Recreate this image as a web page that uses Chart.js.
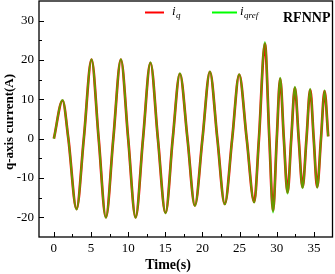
<!DOCTYPE html>
<html><head><meta charset="utf-8">
<script src="https://cdn.jsdelivr.net/npm/chart.js@4/dist/chart.umd.min.js"></script>
<style>html,body{margin:0;padding:0;background:#fff}#wrap{width:335px;height:274px;position:relative}</style>
</head><body><div id="wrap"><canvas id="c" width="335" height="274"></canvas></div>
<script>
const timeS = [0,1.17,1.95,3.05,4.03,5.07,6.03,7.0,8.0,9.02,10.0,11.0,12.0,13.0,14.0,15.03,16.0,16.96,17.98,18.98,20.0,21.0,22.0,23.0,24.0,24.94,25.95,26.96,27.6,28.4,29.0,29.5,30.0,30.46,30.95,31.45,31.95,32.44,32.95,33.47,34.0,34.5,34.97,35.44,35.95,36.43,36.92];
const iq    = [0,9.7,0,-17.9,0,20.1,0,-20.0,0,20.1,0,-20.0,0,19.3,0,-18.9,0,16.5,0,-17.0,0,17.0,0,-16.6,0,16.3,0,-16.1,0,24.2,0,-18.4,0,15.3,0,-13.7,0,13.0,0,-12.4,0,12.5,0,-12.3,0,12.1,0.6];
const iqref = [0,9.8,0,-18.0,0,20.2,0,-20.1,0,20.2,0,-20.1,0,19.4,0,-19.0,0,16.6,0,-17.1,0,17.1,0,-16.7,0,16.4,0,-16.2,0,24.6,0,-18.8,0,15.5,0,-14.0,0,13.2,0,-12.6,0,12.7,0,-12.5,0,12.3,0.6];
const xTicks = [0,5,10,15,20,25,30,35];
const yTicks = [-20,-10,0,10,20,30];
const seriesNames = ['i_q','i_qref'];

const FONT = '"Liberation Serif","Times New Roman",serif';
const toPts = arr => timeS.map((t,i)=>({x:t,y:arr[i]}));

const deco = {
  id:'deco',
  afterDraw(chart){
    const ctx = chart.ctx, a = chart.chartArea;
    const xs = chart.scales.x, ys = chart.scales.y;
    ctx.save();
    ctx.strokeStyle = '#000';
    ctx.lineWidth = 1.3;
    ctx.strokeRect(a.left, a.top, a.right - a.left, a.bottom - a.top);
    ctx.lineWidth = 1;
    ctx.beginPath();
    for (let v = -2.5; v <= 37.5; v += 2.5) {
      const px = Math.round(xs.getPixelForValue(v)) + 0.5;
      if (px <= a.left + 1 || px >= a.right - 1) continue;
      const len = (Math.abs(v % 5) < 1e-6) ? 5 : 3;
      ctx.moveTo(px, a.bottom); ctx.lineTo(px, a.bottom - len);
    }
    for (let v = -25; v <= 35; v += 5) {
      const py = Math.round(ys.getPixelForValue(v)) + 0.5;
      if (py <= a.top + 1 || py >= a.bottom - 1) continue;
      const len = (Math.abs(v % 10) < 1e-6) ? 5 : 3;
      ctx.moveTo(a.left, py); ctx.lineTo(a.left + len, py);
    }
    ctx.stroke();

    // axis titles
    ctx.fillStyle = '#000';
    ctx.font = 'bold 14px ' + FONT;
    ctx.textAlign = 'center'; ctx.textBaseline = 'middle';
    ctx.fillText('Time(s)', 168, 265);
    ctx.save();
    ctx.translate(10, 122); ctx.rotate(-Math.PI/2);
    ctx.font = 'bold 13px ' + FONT;
    ctx.fillText('q-axis current(A)', 0, 0);
    ctx.restore();

    // legend
    ctx.lineWidth = 2;
    ctx.strokeStyle = '#ff0000';
    ctx.beginPath(); ctx.moveTo(145, 12.5); ctx.lineTo(164, 12.5); ctx.stroke();
    ctx.strokeStyle = '#00ff00';
    ctx.beginPath(); ctx.moveTo(212, 12.5); ctx.lineTo(237, 12.5); ctx.stroke();
    ctx.textAlign = 'left'; ctx.textBaseline = 'alphabetic';
    ctx.font = 'italic 13px ' + FONT;
    ctx.fillText('i', 172, 15);
    ctx.fillText('i', 240, 15);
    ctx.font = 'italic 9px ' + FONT;
    ctx.fillText('q', 176, 18);
    ctx.fillText('qref', 244, 18);
    ctx.font = 'bold 14px ' + FONT;
    ctx.fillText('RFNNP', 283, 22);
    ctx.restore();
  }
};

new Chart(document.getElementById('c'), {
  type: 'line',
  data: {
    datasets: [
      { label: seriesNames[1], data: toPts(iqref), borderColor: 'rgba(0,255,0,0.6)', borderWidth: 2, pointRadius: 0, cubicInterpolationMode: 'monotone', order: 0 },
      { label: seriesNames[0], data: toPts(iq), borderColor: '#ff0000', borderWidth: 2.7, pointRadius: 0, cubicInterpolationMode: 'monotone', order: 1 }
    ]
  },
  options: {
    responsive: false, animation: false, devicePixelRatio: 1,
    layout: { padding: { top: 1, right: 2.5, left: 0, bottom: 0 } },
    plugins: { legend: { display: false }, tooltip: { enabled: false } },
    scales: {
      x: {
        type: 'linear', min: -2, max: 37.5,
        afterBuildTicks: s => { s.ticks = xTicks.map(v => ({ value: v })); },
        afterFit: s => { s.height = 37; s.paddingLeft = 0; s.paddingRight = 0; },
        grid: { display: false, drawTicks: false },
        border: { display: false },
        ticks: { color: '#000', font: { family: FONT, size: 13 }, padding: 4, maxRotation: 0, autoSkip: false }
      },
      y: {
        type: 'linear', min: -25, max: 35,
        afterBuildTicks: s => { s.ticks = yTicks.map(v => ({ value: v })); },
        afterFit: s => { s.width = 39; s.paddingTop = 0; s.paddingBottom = 0; },
        grid: { display: false, drawTicks: false },
        border: { display: false },
        ticks: { color: '#000', font: { family: FONT, size: 13 }, padding: 5 }
      }
    }
  },
  plugins: [deco]
});
</script></body></html>
